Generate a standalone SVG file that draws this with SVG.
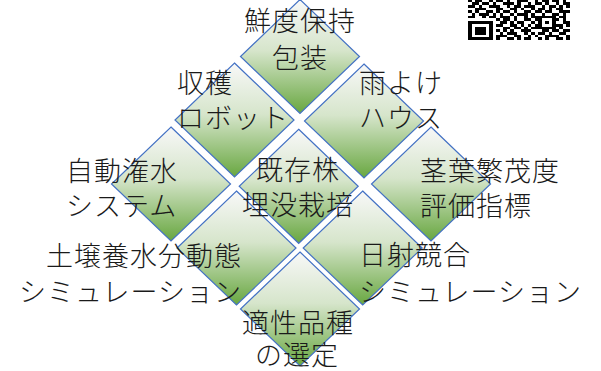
<svg xmlns="http://www.w3.org/2000/svg" width="601" height="371" viewBox="0 0 601 371">
<style>
.d{fill:url(#g);stroke:#4472C4;stroke-width:1.2}
.t{font-family:"Noto Sans CJK JP","Noto Sans CJK SC",sans-serif;font-size:27px;font-weight:300;letter-spacing:1px;fill:#1a1a1a}
.m{text-anchor:middle}.e{text-anchor:end}
</style>
<defs>
<linearGradient id="g" x1="0" y1="0" x2="0" y2="1">
<stop offset="0" stop-color="#f8f8f8"/>
<stop offset="0.45" stop-color="#d6e5cb"/>
<stop offset="1" stop-color="#68a740"/>
</linearGradient>
</defs>
<rect width="601" height="371" fill="#fff"/>
<g id="qr" transform="translate(468,-0.5) scale(3.5,2.7)" fill="#000" shape-rendering="crispEdges">
<path d="M0 0h1v1h-1zM2 0h2v1h-2zM6 0h1v1h-1zM8 0h2v1h-2zM11 0h1v1h-1zM14 0h3v1h-3zM19 0h1v1h-1zM21 0h2v1h-2zM24 0h2v1h-2zM27 0h1v1h-1z
M1 1h2v1h-2zM4 1h2v1h-2zM7 1h1v1h-1zM10 1h3v1h-3zM14 1h1v1h-1zM17 1h1v1h-1zM19 1h2v1h-2zM22 1h1v1h-1zM25 1h1v1h-1zM27 1h2v1h-2z
M0 2h2v1h-2zM3 2h1v1h-1zM6 2h3v1h-3zM11 2h1v1h-1zM13 2h2v1h-2zM16 2h3v1h-3zM21 2h1v1h-1zM23 2h2v1h-2zM26 2h1v1h-1zM28 2h1v1h-1z
M2 3h3v1h-3zM8 3h2v1h-2zM12 3h2v1h-2zM15 3h1v1h-1zM18 3h1v1h-1zM20 3h2v1h-2zM23 3h1v1h-1zM25 3h2v1h-2z
M0 4h1v1h-1zM2 4h1v1h-1zM5 4h2v1h-2zM8 4h1v1h-1zM10 4h2v1h-2zM13 4h1v1h-1zM16 4h2v1h-2zM19 4h2v1h-2zM22 4h2v1h-2zM26 4h3v1h-3z
M1 5h1v1h-1zM3 5h3v1h-3zM7 5h1v1h-1zM9 5h1v1h-1zM12 5h1v1h-1zM14 5h3v1h-3zM18 5h1v1h-1zM21 5h1v1h-1zM24 5h2v1h-2zM27 5h1v1h-1z
M0 6h2v1h-2zM4 6h1v1h-1zM6 6h2v1h-2zM9 6h3v1h-3zM13 6h1v1h-1zM16 6h1v1h-1zM18 6h7v1h-7zM26 6h2v1h-2z
M8 7h1v1h-1zM10 7h2v1h-2zM13 7h1v1h-1zM16 7h2v1h-2zM19 7h2v1h-2zM24 7h2v1h-2zM27 7h1v1h-1z
M0 8h7v1h-7zM9 8h2v1h-2zM12 8h1v1h-1zM14 8h2v1h-2zM18 8h1v1h-1zM20 8h1v1h-1zM22 8h1v1h-1zM24 8h1v1h-1zM27 8h2v1h-2z
M0 9h1v1h-1zM6 9h1v1h-1zM8 9h2v1h-2zM12 9h2v1h-2zM15 9h1v1h-1zM17 9h1v1h-1zM19 9h2v1h-2zM24 9h3v1h-3zM28 9h1v1h-1z
M0 10h1v1h-1zM2 10h3v1h-3zM6 10h1v1h-1zM10 10h2v1h-2zM13 10h2v1h-2zM16 10h1v1h-1zM18 10h7v1h-7zM26 10h1v1h-1z
M0 11h1v1h-1zM2 11h3v1h-3zM6 11h1v1h-1zM8 11h1v1h-1zM10 11h1v1h-1zM12 11h1v1h-1zM15 11h3v1h-3zM21 11h2v1h-2zM24 11h2v1h-2zM27 11h2v1h-2z
M0 12h1v1h-1zM2 12h3v1h-3zM6 12h1v1h-1zM9 12h1v1h-1zM11 12h3v1h-3zM16 12h1v1h-1zM18 12h1v1h-1zM20 12h2v1h-2zM23 12h1v1h-1zM26 12h2v1h-2z
M0 13h1v1h-1zM6 13h1v1h-1zM8 13h3v1h-3zM13 13h2v1h-2zM17 13h1v1h-1zM19 13h1v1h-1zM22 13h4v1h-4zM28 13h1v1h-1z
M0 14h7v1h-7zM8 14h1v1h-1zM11 14h2v1h-2zM14 14h1v1h-1zM16 14h2v1h-2zM20 14h1v1h-1zM22 14h1v1h-1zM25 14h2v1h-2zM28 14h1v1h-1z"/>
</g>
<g id="n1"><polygon class="d" points="300,-0.5 359.5,56.5 300,113.5 240.5,56.5"/></g>
<g id="n2"><polygon class="d" points="234.5,63 294,120 234.5,177 175,120"/></g>
<g id="n3"><polygon class="d" points="364,64 423.5,121 364,178 304.5,121"/></g>
<g id="n4"><polygon class="d" points="171,127 230.5,184 171,241 111.5,184"/></g>
<g id="n5"><polygon class="d" points="298.7,129.3 358.2,186.3 298.7,243.3 239.2,186.3"/></g>
<g id="n6"><polygon class="d" points="431,127 490.5,184 431,241 371.5,184"/></g>
<g id="n7"><polygon class="d" points="236.5,191 296,248 236.5,305 177,248"/></g>
<g id="n8"><polygon class="d" points="362.7,191 422.2,248 362.7,305 303.2,248"/></g>
<g id="n9"><polygon class="d" points="300,252 359.5,309 300,366 240.5,309"/></g>
<g id="connectors"></g>
<g id="labels">
<text class="t m" x="300" y="31">鮮度保持</text>
<text class="t m" x="300" y="68">包装</text>
<text class="t" x="177" y="93">収穫</text>
<text class="t" x="177" y="128">ロボット</text>
<text class="t" x="359" y="93">雨よけ</text>
<text class="t" x="359" y="128">ハウス</text>
<text class="t" x="66" y="181">自動潅水</text>
<text class="t" x="66" y="216">システム</text>
<text class="t m" x="298" y="180">既存株</text>
<text class="t m" x="298" y="215">埋没栽培</text>
<text class="t" x="420" y="181">茎葉繁茂度</text>
<text class="t" x="420" y="216">評価指標</text>
<text class="t e" x="242" y="266">土壌養水分動態</text>
<text class="t e" x="242" y="302">シミュレーション</text>
<text class="t" x="359" y="265">日射競合</text>
<text class="t" x="359" y="302">シミュレーション</text>
<text class="t m" x="298" y="333">適性品種</text>
<text class="t m" x="297" y="365">の選定</text>
</g>
</svg>
